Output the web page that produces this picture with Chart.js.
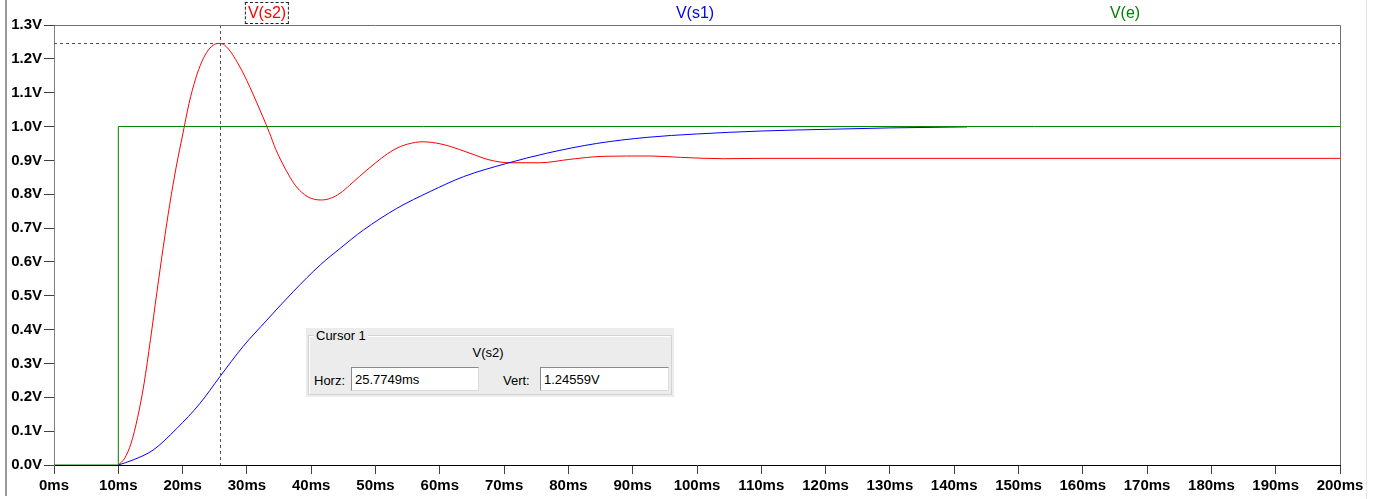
<!DOCTYPE html>
<html>
<head>
<meta charset="utf-8">
<script src="https://cdn.jsdelivr.net/npm/chart.js@4/dist/chart.umd.min.js"></script>
<style>
  body { margin: 0; background: #fff; }
  #wrap { position: relative; width: 1381px; height: 499px; overflow: hidden; background: #fff; font-family: "Liberation Sans", Arial, sans-serif; }
  #plot { position: absolute; left: 0; top: 0; }
  .edgeL { position: absolute; left: 5px; top: 0; width: 2px; height: 496px; background: #9a9a9a; }
  .edgeR { position: absolute; left: 1366px; top: 0; width: 1px; height: 499px; background: #e6e6e6; }
  .trace { position: absolute; top: 3px; font-size: 16px; line-height: 20px; transform: translateX(-50%); }
  #lblS2 { left: 267px; color: #ff0000; border: 1px dashed #222; padding: 0 2px; top: 2px; }
  #lblS1 { left: 695px; color: #0000ff; }
  #lblE  { left: 1125px; color: #008000; }
  #cursor { position: absolute; left: 306px; top: 328px; width: 368px; height: 69px; background: #ececec; font-size: 13px; color: #000; }
  #cursor .grp { position: absolute; left: 2px; top: 7px; width: 362px; height: 58px; border: 1px solid #d2d2d2; box-shadow: 1px 1px 0 #fff inset; }
  #cursor .cap { position: absolute; left: 8px; top: 0px; background: #ececec; padding: 0 2px; line-height: 15px; }
  #cursor .trc { position: absolute; left: 182px; top: 17px; line-height: 15px; transform: translateX(-50%); }
  #cursor .lab { position: absolute; top: 45px; line-height: 15px; }
  #cursor .box { position: absolute; top: 39px; width: 125px; height: 24px; background: #fff; border-top: 1px solid #8a8a8a; border-left: 1px solid #8a8a8a; border-right: 1px solid #dcdcdc; border-bottom: 1px solid #dcdcdc; line-height: 24px; padding-left: 3px; box-sizing: border-box; }
</style>
</head>
<body>
<div id="wrap">
  <canvas id="plot" width="1381" height="499"></canvas>
  <div class="edgeL"></div>
  <div class="edgeR"></div>
  <div class="trace" id="lblS2">V(s2)</div>
  <div class="trace" id="lblS1">V(s1)</div>
  <div class="trace" id="lblE">V(e)</div>
  <div id="cursor">
    <div class="grp"></div>
    <div class="cap">Cursor 1</div>
    <div class="trc">V(s2)</div>
    <div class="lab" style="left:8px">Horz:</div>
    <div class="box" style="left:45px;width:128px">25.7749ms</div>
    <div class="lab" style="left:197px">Vert:</div>
    <div class="box" style="left:234px;width:129px">1.24559V</div>
  </div>
</div>
<script>
// traces (time in ms, volts)
const timeS2 = [10, 11, 12, 13, 14, 15, 16, 17, 18, 19, 20, 21, 22, 23, 24, 25, 25.77, 26.5, 27.5, 28.5, 29.5, 30.5, 31.5, 32.5, 33.5, 34.5, 35.5, 36.5, 37.5, 38.5, 39.5, 40.5, 41.6, 43.0, 44.5, 46.0, 49.0, 52.8, 55.0, 57.4, 59.5, 61.5, 64.7, 67.8, 70.9, 75.6, 80.2, 85.4, 92.7, 97.4, 104.1, 110.3, 120.7, 200];
const voltS2 = [0, 0.02, 0.065, 0.14, 0.24, 0.37, 0.51, 0.645, 0.77, 0.88, 0.975, 1.068, 1.14, 1.192, 1.226, 1.243, 1.2456, 1.241, 1.22, 1.19, 1.155, 1.115, 1.072, 1.028, 0.982, 0.932, 0.892, 0.857, 0.827, 0.806, 0.792, 0.785, 0.783, 0.788, 0.803, 0.827, 0.877, 0.931, 0.948, 0.955, 0.951, 0.942, 0.921, 0.901, 0.893, 0.893, 0.903, 0.912, 0.913, 0.909, 0.905, 0.906, 0.906, 0.906];

const timeS1 = [10, 12.3, 15.4, 19.1, 22.7, 25.8, 29.4, 33.1, 37.2, 41.4, 44.5, 48.1, 53.3, 58.5, 63.7, 70.4, 76.6, 84.4, 92.2, 99.9, 110.3, 120.7, 130, 142];
const voltS1 = [0, 0.015, 0.044, 0.108, 0.182, 0.261, 0.35, 0.428, 0.512, 0.591, 0.64, 0.694, 0.758, 0.808, 0.852, 0.891, 0.921, 0.95, 0.968, 0.978, 0.987, 0.992, 0.996, 0.999];

const timeE = [0, 10, 10, 200];
const voltE = [0, 0, 1, 1];

const cursorTime = 25.7749;
const cursorVolt = 1.24559;

const toXY = (xs, ys) => xs.map((x, i) => ({ x: x, y: ys[i] }));

// dashed cursor cross + plot frame
const cursorPlugin = {
    id: 'cursorLines',
    afterDatasetsDraw(chart) {
        const ctx = chart.ctx;
        const a = chart.chartArea;
        const cx = Math.round(chart.scales.x.getPixelForValue(cursorTime)) + 0.5;
        const cy = Math.round(chart.scales.y.getPixelForValue(cursorVolt)) + 0.5;
        ctx.save();
        ctx.strokeStyle = '#505050';
        ctx.lineWidth = 1;
        ctx.setLineDash([3, 3]);
        ctx.beginPath();
        ctx.moveTo(cx, a.top);
        ctx.lineTo(cx, a.bottom);
        ctx.moveTo(a.left, cy);
        ctx.lineTo(a.right, cy);
        ctx.stroke();
        ctx.setLineDash([]);
        ctx.strokeStyle = '#707070';
        ctx.beginPath();
        ctx.moveTo(a.left, a.top + 0.5);
        ctx.lineTo(a.right + 0.5, a.top + 0.5);
        ctx.lineTo(a.right + 0.5, a.bottom);
        ctx.stroke();
        ctx.restore();
    }
};

const tickFont = { family: 'Liberation Sans', size: 15, weight: 'bold' };

const ctx = document.getElementById('plot').getContext('2d');
const myChart = new Chart(ctx, {
    type: 'line',
    data: {
        datasets: [
            {
                label: 'V(s2)',
                data: toXY(timeS2, voltS2),
                borderColor: '#ff0000',
                borderWidth: 1,
                pointRadius: 0,
                cubicInterpolationMode: 'monotone',
                order: 2,
            },
            {
                label: 'V(s1)',
                data: toXY(timeS1, voltS1),
                borderColor: '#0000ff',
                borderWidth: 1,
                pointRadius: 0,
                cubicInterpolationMode: 'monotone',
                order: 1,
            },
            {
                label: 'V(e)',
                data: toXY(timeE, voltE),
                borderColor: '#008000',
                borderWidth: 1,
                pointRadius: 0,
                tension: 0,
                order: 0,
            },
        ],
    },
    options: {
        responsive: false,
        animation: false,
        parsing: false,
        layout: { padding: { left: 0, top: 25, right: 41, bottom: 0 } },
        plugins: {
            legend: { display: false },
            tooltip: { enabled: false },
        },
        scales: {
            x: {
                type: 'linear',
                min: 0,
                max: 200,
                afterFit: (scale) => { scale.height = 34; },
                ticks: {
                    stepSize: 10,
                    autoSkip: false,
                    maxRotation: 0,
                    padding: 3,
                    color: '#000',
                    font: tickFont,
                    callback: (v) => v + 'ms',
                },
                grid: { drawOnChartArea: false, drawTicks: true, tickLength: 9, color: '#404040' },
                border: { color: '#000' },
            },
            y: {
                min: 0,
                max: 1.3,
                afterFit: (scale) => { scale.width = 54; },
                ticks: {
                    stepSize: 0.1,
                    autoSkip: false,
                    padding: 2,
                    color: '#000',
                    font: tickFont,
                    callback: (v) => v.toFixed(1) + 'V',
                },
                grid: { drawOnChartArea: false, drawTicks: true, tickLength: 10, color: '#404040' },
                border: { color: '#808080' },
            },
        },
    },
    plugins: [cursorPlugin],
});
</script>
</body>
</html>
